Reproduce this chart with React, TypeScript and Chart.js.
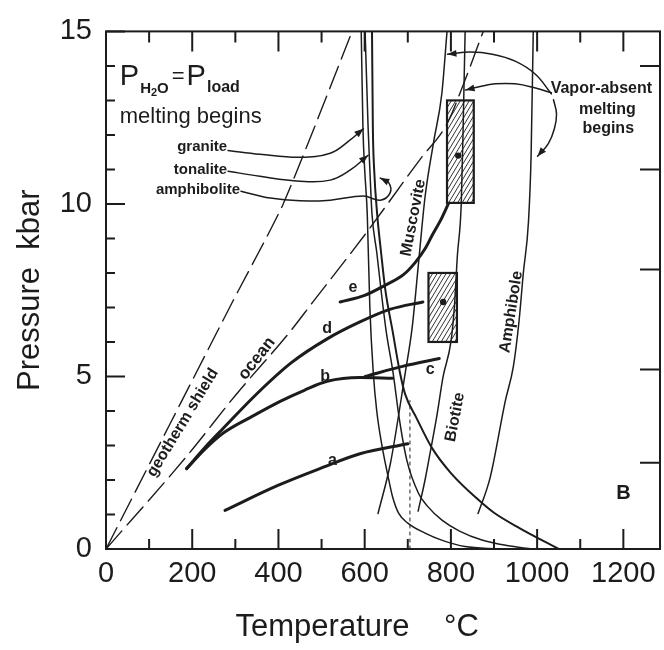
import React, { useEffect, useRef } from 'react';
import { Chart, registerables } from 'chart.js';

Chart.register(...registerables);

// ---------- axes ----------
const X_MIN = 0;
const X_MAX = 1285;
const Y_MIN = 0;
const Y_MAX = 15;
const X_TICKS = [0, 100, 200, 300, 400, 500, 600, 700, 800, 900, 1000, 1100, 1200];
const X_LABEL_EVERY = 200;
const Y_TICKS = [0, 1, 2, 3, 4, 5, 6, 7, 8, 9, 10, 11, 12, 13, 14, 15];
const Y_LABEL_EVERY = 5;
const RIGHT_TICKS = [2.5, 5.2, 8.1, 11, 14];

// ---------- geotherms (T °C, P kbar) ----------
const shieldT = [0, 295, 411, 571];
const shieldP = [0, 7.2, 10, 15];
const oceanT = [0, 188, 300, 427, 480, 600, 729, 790, 830, 875];
const oceanP = [0, 2.7, 4.45, 6.3, 7.16, 9.1, 11.3, 12.3, 13.5, 15];

// ---------- H2O-saturated solidi ----------
const graniteT = [592, 596, 600, 606, 612, 620, 628, 640, 656, 665, 679, 700, 740, 780, 833, 911];
const graniteP = [15, 12.2, 11, 9.7, 7.0, 5.1, 4.0, 3.0, 2.0, 1.5, 1.03, 0.75, 0.46, 0.25, 0.07, 0];
const tonaliteT = [601, 608, 612, 617, 628, 638, 650, 666, 680, 698, 725, 745, 780, 820, 872, 930, 988];
const tonaliteP = [15, 12.2, 11, 9.7, 8.6, 7.5, 6.3, 5.1, 3.8, 2.56, 1.61, 1.25, 0.83, 0.52, 0.26, 0.1, 0];
const amphiboliteT = [617, 619, 622, 629, 638, 648, 665, 682, 694, 720, 756, 800, 865, 900, 960, 1050];
const amphiboliteP = [15, 12.2, 11, 9.7, 8.6, 7.5, 6.3, 5.1, 4.48, 3.8, 2.93, 2.2, 1.41, 1.05, 0.6, 0];

// ---------- dehydration / vapor-absent melting ----------
const muscoviteT = [631, 660, 694, 710, 725, 740, 760, 779, 791];
const muscoviteP = [1.03, 2.5, 5.1, 6.4, 8.3, 10.2, 11.8, 13.2, 15];
const biotiteT = [724, 740, 752, 768, 782, 800, 808, 815, 824, 828, 833];
const biotiteP = [1.1, 2.0, 2.8, 3.9, 5.0, 6.0, 7.0, 8.5, 10, 12, 15];
const amphiboleT = [863, 891, 926, 945, 958, 968, 980, 986, 991];
const amphiboleP = [1.03, 2.07, 4.28, 5.3, 6.6, 8.0, 9.5, 11.4, 15];
const dottedT = [705, 705];
const dottedP = [0, 4.3];

// ---------- P-T paths a-e ----------
const aT = [276, 400, 500, 589, 700];
const aP = [1.12, 1.85, 2.35, 2.76, 3.05];
const bT = [187, 230, 272, 340, 404, 460, 513, 589, 665];
const bP = [2.33, 2.9, 3.36, 3.85, 4.28, 4.6, 4.86, 4.97, 4.95];
const cT = [601, 690, 773];
const cP = [5.0, 5.3, 5.52];
const dT = [187, 230, 272, 350, 430, 513, 589, 660, 735];
const dP = [2.33, 2.95, 3.5, 4.5, 5.4, 6.09, 6.58, 6.95, 7.16];
const eT = [543, 600, 647, 690, 717, 740, 756, 775, 794];
const eP = [7.16, 7.35, 7.64, 7.95, 8.3, 8.7, 9.08, 9.5, 10.0];

// ---------- hatched boxes ----------
const boxT0 = [748, 791];
const boxT1 = [814, 853];
const boxP0 = [6.0, 10.03];
const boxP1 = [8.0, 13.0];
const boxMarkT = [782, 817];
const boxMarkP = [7.16, 11.4];

// ---------- leader lines ----------
const graniteLeadT = [283, 357, 450, 520, 562, 597];
const graniteLeadP = [11.55, 11.44, 11.35, 11.47, 11.81, 12.18];
const tonaliteLeadT = [283, 357, 450, 520, 566, 608];
const tonaliteLeadP = [10.95, 10.8, 10.66, 10.69, 10.98, 11.41];
const amphiboliteLeadT = [313, 381, 450, 520, 597, 636, 659, 655, 636];
const amphiboliteLeadP = [10.37, 10.17, 10.09, 10.11, 10.23, 10.11, 10.32, 10.63, 10.75];
const vapor1T = [1033, 996, 949, 896, 845, 792];
const vapor1P = [13.19, 13.76, 14.14, 14.34, 14.4, 14.34];
const vapor2T = [1033, 996, 949, 903, 863, 834];
const vapor2P = [13.22, 13.36, 13.48, 13.48, 13.39, 13.3];
const vapor3T = [1038, 1045, 1040, 1026, 1001];
const vapor3P = [13.02, 12.61, 12.18, 11.75, 11.38];

const INK = '#1c1c1c';
const SANS = "'Liberation Sans', Arial, sans-serif";

const pts = (T: number[], P: number[]) => T.map((t, i) => ({ x: t, y: P[i] }));

function line(label: string, T: number[], P: number[], width: number, extra: any = {}) {
  return {
    label,
    data: pts(T, P),
    borderColor: INK,
    backgroundColor: INK,
    borderWidth: width,
    pointRadius: 0,
    fill: false,
    tension: 0.4,
    cubicInterpolationMode: 'monotone',
    borderCapStyle: 'round',
    ...extra,
  };
}

const LEADERS = [
  [graniteLeadT, graniteLeadP],
  [tonaliteLeadT, tonaliteLeadP],
  [amphiboliteLeadT, amphiboliteLeadP],
  [vapor1T, vapor1P],
  [vapor2T, vapor2P],
  [vapor3T, vapor3P],
];

// text annotations placed in data coordinates (T, P)
const LABELS: { text: string; t: number; p: number; rot?: number; font: string; align?: CanvasTextAlign }[] = [
  { text: 'geotherm shield', t: 178, p: 3.66, rot: -58.7, font: `bold 16px ${SANS}` },
  { text: 'ocean', t: 350, p: 5.52, rot: -52, font: `bold 17px ${SANS}` },
  { text: 'a', t: 525, p: 2.56, font: `bold 16px ${SANS}` },
  { text: 'b', t: 508, p: 5.0, font: `bold 16px ${SANS}` },
  { text: 'c', t: 752, p: 5.2, font: `bold 16px ${SANS}` },
  { text: 'd', t: 513, p: 6.38, font: `bold 16px ${SANS}` },
  { text: 'e', t: 573, p: 7.59, font: `bold 16px ${SANS}` },
  { text: 'Muscovite', t: 713, p: 9.6, rot: -79, font: `bold 16px ${SANS}` },
  { text: 'Biotite', t: 810, p: 3.82, rot: -79, font: `bold 16px ${SANS}` },
  { text: 'Amphibole', t: 940, p: 6.87, rot: -81, font: `bold 16px ${SANS}` },
  { text: 'B', t: 1200, p: 1.61, font: `bold 20px ${SANS}` },
  { text: 'Vapor-absent', t: 1149, p: 13.33, font: `bold 16px ${SANS}` },
  { text: 'melting', t: 1163, p: 12.73, font: `bold 16px ${SANS}` },
  { text: 'begins', t: 1165, p: 12.18, font: `bold 16px ${SANS}` },
  { text: 'granite', t: 281, p: 11.66, font: `bold 15px ${SANS}`, align: 'right' },
  { text: 'tonalite', t: 281, p: 11.0, font: `bold 15px ${SANS}`, align: 'right' },
  { text: 'amphibolite', t: 311, p: 10.4, font: `bold 15px ${SANS}`, align: 'right' },
  { text: 'melting begins', t: 32, p: 12.52, font: `22px ${SANS}`, align: 'left' },
];

const framePlugin = {
  id: 'frame',
  afterDraw(chart: any) {
    const { ctx, chartArea: a, scales } = chart;
    const xs = scales.x;
    const ys = scales.y;
    ctx.save();
    ctx.strokeStyle = INK;
    ctx.lineWidth = 2;
    ctx.strokeRect(a.left, a.top, a.right - a.left, a.bottom - a.top);
    ctx.beginPath();
    for (const v of X_TICKS) {
      const x = xs.getPixelForValue(v);
      const major = v % X_LABEL_EVERY === 0;
      ctx.moveTo(x, a.bottom);
      ctx.lineTo(x, a.bottom - (major ? 20 : 10));
      ctx.moveTo(x, a.top);
      ctx.lineTo(x, a.top + (major ? 20 : 11));
    }
    for (const v of Y_TICKS) {
      const y = ys.getPixelForValue(v);
      const major = v % Y_LABEL_EVERY === 0;
      ctx.moveTo(a.left, y);
      ctx.lineTo(a.left + (major ? 19 : 9), y);
    }
    for (const v of RIGHT_TICKS) {
      const y = ys.getPixelForValue(v);
      ctx.moveTo(a.right, y);
      ctx.lineTo(a.right - 20, y);
    }
    ctx.stroke();
    ctx.restore();
  },
};

const boxPlugin = {
  id: 'boxes',
  beforeDatasetsDraw(chart: any) {
    const { ctx, scales } = chart;
    const xs = scales.x;
    const ys = scales.y;
    ctx.save();
    for (let i = 0; i < boxT0.length; i++) {
      const x1 = xs.getPixelForValue(boxT0[i]);
      const x2 = xs.getPixelForValue(boxT1[i]);
      const yTop = ys.getPixelForValue(boxP1[i]);
      const yBot = ys.getPixelForValue(boxP0[i]);
      const w = x2 - x1;
      const h = yBot - yTop;
      ctx.save();
      ctx.beginPath();
      ctx.rect(x1, yTop, w, h);
      ctx.fillStyle = '#fff';
      ctx.fill();
      ctx.clip();
      ctx.strokeStyle = '#333';
      ctx.lineWidth = 1;
      ctx.beginPath();
      const slant = h * 0.6;
      for (let k = -slant; k < w + 5; k += 4.5) {
        ctx.moveTo(x1 + k, yBot);
        ctx.lineTo(x1 + k + slant, yTop);
      }
      ctx.stroke();
      ctx.restore();
      ctx.strokeStyle = INK;
      ctx.lineWidth = 2.2;
      ctx.strokeRect(x1, yTop, w, h);
    }
    ctx.restore();
  },
};

const labelPlugin = {
  id: 'labels',
  afterDatasetsDraw(chart: any) {
    const { ctx, scales } = chart;
    const xs = scales.x;
    const ys = scales.y;
    ctx.save();
    ctx.fillStyle = INK;
    // arrowheads at leader tips
    for (const [T, P] of LEADERS) {
      const n = T.length;
      const x1 = xs.getPixelForValue(T[n - 2]);
      const y1 = ys.getPixelForValue(P[n - 2]);
      const x2 = xs.getPixelForValue(T[n - 1]);
      const y2 = ys.getPixelForValue(P[n - 1]);
      const ang = Math.atan2(y2 - y1, x2 - x1);
      ctx.save();
      ctx.translate(x2, y2);
      ctx.rotate(ang);
      ctx.beginPath();
      ctx.moveTo(0, 0);
      ctx.lineTo(-9, -3.5);
      ctx.lineTo(-9, 3.5);
      ctx.closePath();
      ctx.fill();
      ctx.restore();
    }
    // box marks
    for (let i = 0; i < boxMarkT.length; i++) {
      ctx.beginPath();
      ctx.arc(xs.getPixelForValue(boxMarkT[i]), ys.getPixelForValue(boxMarkP[i]), 3.2, 0, Math.PI * 2);
      ctx.fill();
    }
    // texts
    for (const L of LABELS) {
      const x = xs.getPixelForValue(L.t);
      const y = ys.getPixelForValue(L.p);
      ctx.save();
      ctx.translate(x, y);
      if (L.rot) ctx.rotate((L.rot * Math.PI) / 180);
      ctx.font = L.font;
      ctx.textAlign = L.align || 'center';
      ctx.textBaseline = 'middle';
      ctx.fillText(L.text, 0, 0);
      ctx.restore();
    }
    // P(H2O) = P(load)
    const bx = xs.getPixelForValue(32);
    const by = ys.getPixelForValue(13.45);
    ctx.textAlign = 'left';
    ctx.textBaseline = 'alphabetic';
    ctx.font = `29px ${SANS}`;
    ctx.fillText('P', bx, by);
    let cx = bx + ctx.measureText('P').width + 1;
    ctx.font = `bold 15px ${SANS}`;
    ctx.fillText('H', cx, by + 8);
    cx += ctx.measureText('H').width;
    ctx.font = `bold 11px ${SANS}`;
    ctx.fillText('2', cx, by + 11);
    cx += ctx.measureText('2').width;
    ctx.font = `bold 15px ${SANS}`;
    ctx.fillText('O', cx, by + 8);
    cx += ctx.measureText('O').width + 3;
    ctx.font = `22px ${SANS}`;
    ctx.fillText('=', cx, by - 2);
    cx += ctx.measureText('=').width + 2;
    ctx.font = `29px ${SANS}`;
    ctx.fillText('P', cx, by);
    cx += ctx.measureText('P').width + 1;
    ctx.font = `bold 16px ${SANS}`;
    ctx.fillText('load', cx, by + 7);
    ctx.restore();
  },
};

export default function App() {
  const ref = useRef<HTMLCanvasElement>(null);

  useEffect(() => {
    const canvas = ref.current;
    if (!canvas) return;
    const datasets: any[] = [
      line('geotherm shield', shieldT, shieldP, 1.4, { borderDash: [24, 8], cubicInterpolationMode: 'default', tension: 0.2 }),
      line('ocean', oceanT, oceanP, 1.4, { borderDash: [24, 8] }),
      line('granite solidus', graniteT, graniteP, 1.5),
      line('tonalite solidus', tonaliteT, tonaliteP, 1.5),
      line('amphibolite solidus', amphiboliteT, amphiboliteP, 2),
      line('Muscovite', muscoviteT, muscoviteP, 1.5),
      line('Biotite', biotiteT, biotiteP, 1.5),
      line('Amphibole', amphiboleT, amphiboleP, 1.5),
      line('dotted', dottedT, dottedP, 1, { borderDash: [3, 4], cubicInterpolationMode: 'default', tension: 0 }),
      line('a', aT, aP, 3),
      line('b', bT, bP, 3),
      line('c', cT, cP, 3),
      line('d', dT, dP, 3),
      line('e', eT, eP, 3),
      ...LEADERS.map(([T, P], i) =>
        line('leader' + i, T, P, 1.5, { cubicInterpolationMode: 'default', tension: 0.4 })
      ),
    ];

    const chart = new Chart(canvas, {
      type: 'line',
      data: { datasets },
      options: {
        responsive: false,
        animation: false,
        devicePixelRatio: 1,
        layout: { padding: { top: 27, right: 4, left: 0, bottom: 0 } },
        plugins: { legend: { display: false }, tooltip: { enabled: false }, title: { display: false } },
        scales: {
          x: {
            type: 'linear',
            position: 'bottom',
            min: X_MIN,
            max: X_MAX,
            grid: { display: false, drawTicks: false },
            border: { display: false },
            afterBuildTicks: (s: any) => {
              s.ticks = X_TICKS.map((v) => ({ value: v }));
            },
            afterFit: (s: any) => {
              s.height = 101;
            },
            ticks: {
              autoSkip: false,
              maxRotation: 0,
              padding: 8,
              color: INK,
              font: { family: SANS, size: 29 },
              callback: (v: any) => (Number(v) % X_LABEL_EVERY === 0 ? String(v) : ''),
            },
            title: {
              display: true,
              text: 'Temperature    °C      ',
              color: INK,
              font: { family: SANS, size: 31 },
              padding: { top: 0, bottom: 4 },
            },
          },
          y: {
            type: 'linear',
            position: 'left',
            min: Y_MIN,
            max: Y_MAX,
            grid: { display: false, drawTicks: false },
            border: { display: false },
            afterBuildTicks: (s: any) => {
              s.ticks = Y_TICKS.map((v) => ({ value: v }));
            },
            afterFit: (s: any) => {
              s.width = 106;
            },
            ticks: {
              autoSkip: false,
              padding: 14,
              color: INK,
              font: { family: SANS, size: 29 },
              callback: (v: any) => (Number(v) % Y_LABEL_EVERY === 0 ? String(v) : ''),
            },
            title: {
              display: true,
              text: 'Pressure  kbar',
              color: INK,
              font: { family: SANS, size: 31 },
              padding: { top: 12, bottom: 0 },
            },
          },
        },
      },
      plugins: [boxPlugin, labelPlugin, framePlugin],
    });
    return () => chart.destroy();
  }, []);

  return (
    <div style={{ position: 'absolute', left: 0, top: 0, width: 664, height: 650, background: '#fff' }}>
      <canvas ref={ref} width={664} height={650} style={{ display: 'block', width: 664, height: 650 }} />
    </div>
  );
}
